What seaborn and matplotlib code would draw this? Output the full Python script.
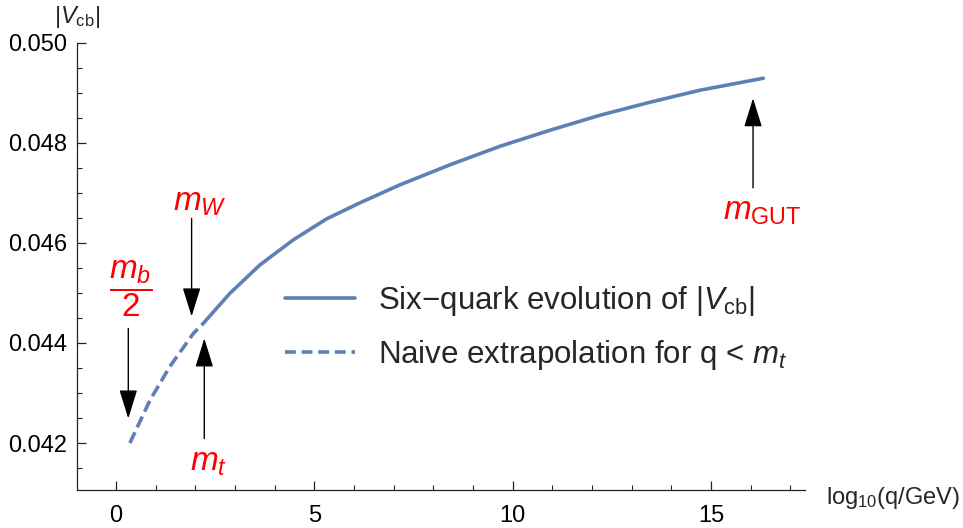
import numpy as np
import pandas as pd
import matplotlib
matplotlib.use("Agg")
import matplotlib.pyplot as plt
import seaborn as sns

# log10(q/GeV) and |Vcb|
x_six = [2.20, 2.87, 3.63, 4.47, 5.31, 6.15, 7.16, 8.42, 9.68, 10.94, 12.20, 13.46, 14.72, 16.32]
v_six = [0.04439, 0.04499, 0.04556, 0.04606, 0.04648, 0.04680, 0.04716,
         0.04756, 0.04793, 0.04825, 0.04855, 0.04881, 0.04905, 0.04929]
x_naive = [0.35, 0.86, 1.36, 1.95, 2.20]
v_naive = [0.04200, 0.04286, 0.04353, 0.04419, 0.04439]

# scale markers: (log10 q, arrow tail, arrow tip)
marks = {
    "mb2": (0.31, 0.04429, 0.04249),
    "mW": (1.906, 0.04649, 0.04453),
    "mt": (2.226, 0.04209, 0.04409),
    "mGUT": (16.06, 0.04710, 0.04889),
}

sns.set_style("ticks")
plt.rcParams["font.family"] = ["Liberation Sans", "DejaVu Sans"]
plt.rcParams["mathtext.fontset"] = "custom"
plt.rcParams["mathtext.rm"] = "Liberation Sans"
plt.rcParams["mathtext.it"] = "Liberation Sans:italic"
plt.rcParams["mathtext.bf"] = "Liberation Sans:bold"

blue = "#5e81b5"

df = pd.concat([
    pd.DataFrame({"x": x_six, "v": v_six, "s": "six"}),
    pd.DataFrame({"x": x_naive, "v": v_naive, "s": "naive"}),
])

fig = plt.figure(figsize=(9.63, 5.28), dpi=100)
ax = fig.add_axes([77 / 963, 1 - 490 / 528, (805 - 77) / 963, (490 - 42.7) / 528])

sns.lineplot(data=df[df.s == "six"], x="x", y="v", color=blue, lw=2.6, ax=ax,
             label=r"Six$-$quark evolution of $|V_{\rm cb}|$", sort=False)
sns.lineplot(data=df[df.s == "naive"], x="x", y="v", color=blue, lw=2.6, ax=ax,
             label=r"Naive extrapolation for q < $m_t$", sort=False)
ax.lines[1].set_dashes([3.3, 1.5])

ax.set_xlim(-0.983, 17.37)
ax.set_ylim(0.041061, 0.050)
ax.set_xticks([0, 5, 10, 15])
ax.set_xticks(np.arange(0, 18, 1), minor=True)
ax.set_yticks([0.042, 0.044, 0.046, 0.048, 0.050])
ax.set_yticks(np.arange(0.0415, 0.05, 0.0005), minor=True)
ax.set_yticklabels(["0.042", "0.044", "0.046", "0.048", "0.050"])
ax.tick_params(which="major", direction="in", length=6.5, width=0.9, labelsize=17, colors="#222222")
ax.tick_params(which="minor", direction="in", length=3.5, width=0.8, colors="#222222")
ax.tick_params(axis="x", which="major", pad=11)
ax.tick_params(axis="y", which="major", pad=7)
for t in ax.get_xticklabels() + ax.get_yticklabels():
    t.set_color("black")
sns.despine(ax=ax)
for s in ["left", "bottom"]:
    ax.spines[s].set_linewidth(0.9)
    ax.spines[s].set_color("#222222")
ax.set_xlabel("")
ax.set_ylabel("")

ax.text(0.0, 1.0575, r"$|V_{\rm cb}|$", transform=ax.transAxes, ha="center", va="center", fontsize=17)
ax.text(1.029, -0.018, r"log$_{10}$(q/GeV)", transform=ax.transAxes, ha="left", va="center", fontsize=17)

leg = ax.legend(loc="upper left", bbox_to_anchor=(0.2857, 0.46), frameon=False, fontsize=22.5,
                handlelength=2.25, handletextpad=0.72, labelspacing=0.62, borderpad=0,
                borderaxespad=0)
leg.get_lines()[1].set_dashes([3.0, 1.6])

# arrows
for key, (xa, tail, tip) in marks.items():
    ax.annotate("", xy=(xa, tip), xytext=(xa, tail),
                arrowprops=dict(arrowstyle="-|>,head_length=0.9,head_width=0.28",
                                mutation_scale=20, color="black", lw=1.0,
                                shrinkA=0, shrinkB=0))

red = "red"
ax.text(0.38, 0.045095, r"$\dfrac{m_b}{2}$", color=red, fontsize=24, ha="center", va="center")
ax.text(1.44, 0.046637, r"$m_W$", color=red, fontsize=24, ha="left", va="baseline")
ax.text(1.87, 0.041447, r"$m_t$", color=red, fontsize=24, ha="left", va="baseline")
ax.text(15.30, 0.046457, r"$m_{\rm GUT}$", color=red, fontsize=24, ha="left", va="baseline")

fig.savefig("out.png", dpi=100)
